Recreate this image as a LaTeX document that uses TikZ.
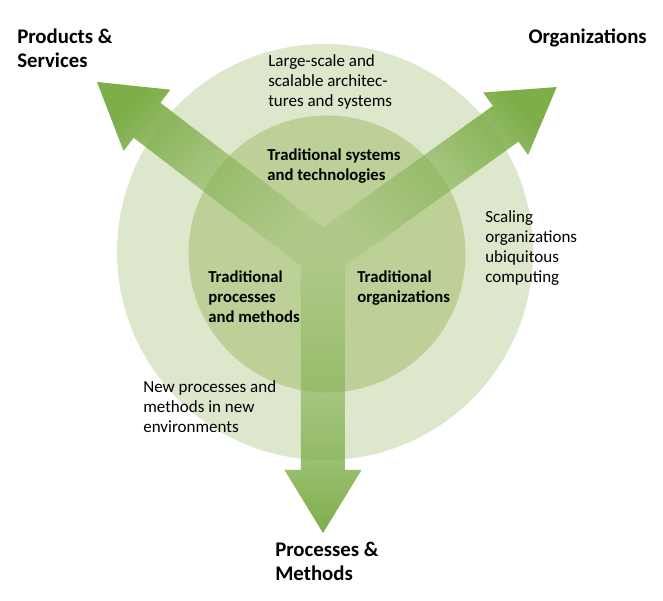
\documentclass[tikz,border=0pt]{standalone}
\usepackage{fontspec}
\setmainfont{Carlito}
\usepackage{tikz}
\usetikzlibrary{fadings}
\definecolor{outerring}{RGB}{221,231,204}
\definecolor{innerring}{RGB}{188,208,152}
\definecolor{arrowgreen}{RGB}{126,174,74}
\tikzfading[name=armfade, top color=transparent!0, bottom color=transparent!82]

\begin{document}
\begin{tikzpicture}[x=0.025cm, y=-0.025cm,
    arm/.style={fill=arrowgreen, path fading=armfade, fading angle=#1},
    title/.style={font=\bfseries\fontsize{14.8}{17}\selectfont, align=left, anchor=base west, inner sep=0pt},
    note/.style={font=\fontsize{12.1}{14.2}\selectfont, align=left, anchor=base west, inner sep=0pt},
    keynote/.style={note, font=\bfseries\fontsize{11.9}{14.2}\selectfont}]
  \useasboundingbox (0,0) rectangle (663,600);

  % rings
  \fill[outerring] (325,252) circle (208);
  \fill[innerring] (327,254) circle (138.5);

  % three arrows out of the centre, split at the hub so they do not overlap
  \coordinate (hub) at (323,255);
  \coordinate (joinlr) at (323.4,227.6);
  \coordinate (joinld) at (301,265.9);
  \coordinate (joinrd) at (345,266.3);
  \coordinate (tipprod) at (97,82);
  \coordinate (tiporg) at (557,87);
  \coordinate (tipproc) at (323,533);

  \path[arm=180] (hub) -- (joinld) -- (301,470) -- (284.5,470) -- (tipproc)
    -- (361.5,470) -- (345,470) -- (joinrd) -- cycle;
  \path[arm=52.6] (hub) -- (joinlr) -- (160.4,102.8) -- (170.4,89.7) -- (tipprod)
    -- (123.6,150.9) -- (133.7,137.8) -- (joinld) -- cycle;
  \path[arm=-54.3] (hub) -- (joinrd) -- (518.7,141.6) -- (528.3,155.0) -- (tiporg)
    -- (483.4,92.5) -- (493.0,105.9) -- (joinlr) -- cycle;

  % labels (placed at the baseline of their last line)
  \node[title] (prod) at (17,67) {Products \&\\Services};
  \node[title, anchor=base east] (org) at (647,43) {Organizations};
  \node[title] (proc) at (275,580) {Processes \&\\Methods};

  \node[note] (scalearch) at (268,106) {Large-scale and\\scalable architec-\\tures and systems};
  \node[keynote] (tradsys) at (267,180) {Traditional systems\\and technologies};
  \node[note] (scaleorg) at (485,282) {Scaling\\organizations\\ubiquitous\\computing};
  \node[keynote] (tradproc) at (208,322) {Traditional\\processes\\and methods};
  \node[keynote] (tradorg) at (357,302) {Traditional\\organizations};
  \node[note] (newproc) at (143,432) {New processes and\\methods in new\\environments};
\end{tikzpicture}
\end{document}
